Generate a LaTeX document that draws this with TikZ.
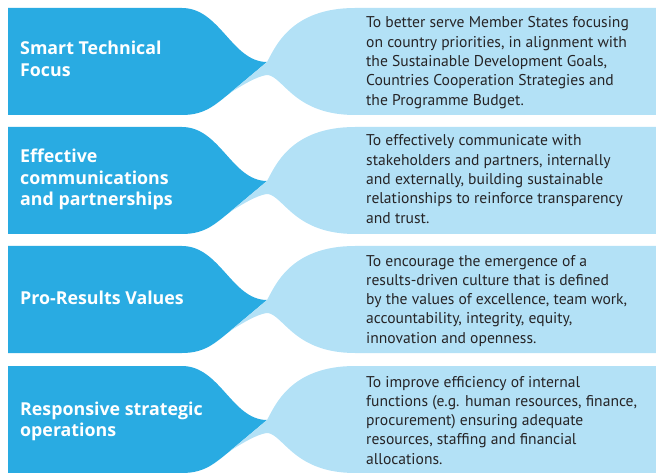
\documentclass[tikz,border=0pt]{standalone}
\usepackage{fontspec}
\setmainfont{PT Sans}
\newfontfamily\headfont{Open Sans}
\definecolor{pillardark}{RGB}{41,171,226}
\definecolor{pillarlight}{RGB}{179,225,246}
\definecolor{bodygray}{RGB}{38,36,38}
\begin{document}
\begin{tikzpicture}[
    x=1pt, y=-1pt,
    head/.style={anchor=base west, align=left, inner sep=0pt, text=white,
        font=\headfont\bfseries\fontsize{17.8}{21.5}\selectfont},
    desc/.style={anchor=base west, align=left, inner sep=0pt, text=bodygray,
        font=\fontsize{15.6}{19.3}\selectfont},
    darkband/.style={fill=pillardark},
    lightband/.style={fill=pillarlight}
]
\useasboundingbox (0,0) rectangle (656,473);
% bands: heading ribbon twisting into the description ribbon
\foreach \y in {8,127,246,366} {
    \fill[darkband] (8,\y) -- (182,\y)
        .. controls (220,\y) and (232,\y+54) .. (267,\y+54)
        -- (230,\y+85)
        .. controls (215,\y+97) and (205,\y+107) .. (182,\y+107)
        -- (8,\y+107) -- cycle;
    \fill[lightband] (230,\y+85) -- (267,\y+54)
        .. controls (275,\y+40) and (290,\y) .. (355,\y)
        -- (656,\y) -- (656,\y+107) -- (355,\y+107)
        .. controls (295,\y+107) and (284,\y+70) .. (268,\y+67)
        .. controls (262,\y+67) and (250,\y+72) .. cycle;
}
% headings (placed at the baseline of their last line)
\node[head] (smart) at (20,76.5) {Smart Technical\\Focus};
\node[head] (comm) at (20,206) {Effective\\communications\\and partnerships};
\node[head] (results) at (20,304) {Pro-Results Values};
\node[head] (ops) at (20,436.5) {Responsive strategic\\operations};
% descriptions
\node[desc] (serve) at (366,105.2) {To better serve Member States focusing\\on country priorities, in alignment with\\the Sustainable Development Goals,\\Countries Cooperation Strategies and\\the Programme Budget.};
\node[desc] (talk) at (366,223.2) {To effectively communicate with\\stakeholders and partners, internally\\and externally, building sustainable\\relationships to reinforce transparency\\and trust.};
\node[desc] (culture) at (366,343.2) {To encourage the emergence of a\\results-driven culture that is defined\\by the values of excellence, team work,\\accountability, integrity, equity,\\innovation and openness.};
\node[desc] (effic) at (366,464.2) {To improve efficiency of internal\\functions (e.g. human resources, finance,\\procurement) ensuring adequate\\resources, staffing and financial\\allocations.};
\end{tikzpicture}
\end{document}
